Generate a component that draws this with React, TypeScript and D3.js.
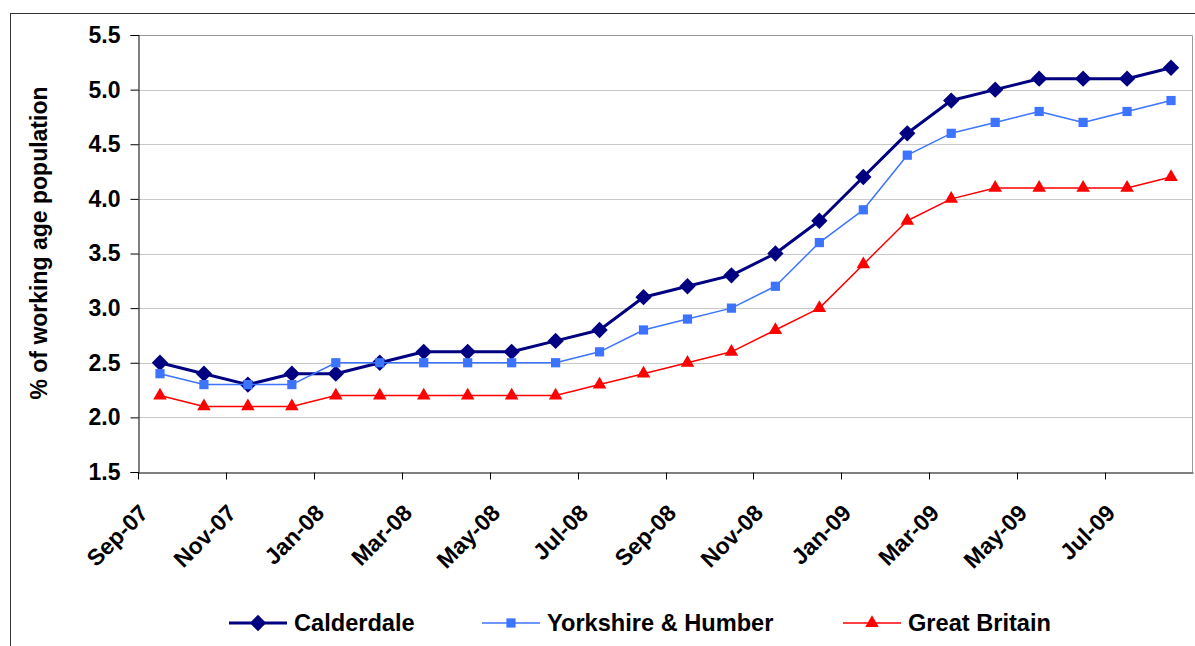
import { useRef, useEffect } from "react";
import * as d3 from "d3";

const months = [
  "Sep-07", "Oct-07", "Nov-07", "Dec-07", "Jan-08", "Feb-08", "Mar-08", "Apr-08",
  "May-08", "Jun-08", "Jul-08", "Aug-08", "Sep-08", "Oct-08", "Nov-08", "Dec-08",
  "Jan-09", "Feb-09", "Mar-09", "Apr-09", "May-09", "Jun-09", "Jul-09", "Aug-09",
];

const calderdale = [
  2.5, 2.4, 2.3, 2.4, 2.4, 2.5, 2.6, 2.6, 2.6, 2.7, 2.8, 3.1,
  3.2, 3.3, 3.5, 3.8, 4.2, 4.6, 4.9, 5.0, 5.1, 5.1, 5.1, 5.2,
];
const yorkshire = [
  2.4, 2.3, 2.3, 2.3, 2.5, 2.5, 2.5, 2.5, 2.5, 2.5, 2.6, 2.8,
  2.9, 3.0, 3.2, 3.6, 3.9, 4.4, 4.6, 4.7, 4.8, 4.7, 4.8, 4.9,
];
const greatBritain = [
  2.2, 2.1, 2.1, 2.1, 2.2, 2.2, 2.2, 2.2, 2.2, 2.2, 2.3, 2.4,
  2.5, 2.6, 2.8, 3.0, 3.4, 3.8, 4.0, 4.1, 4.1, 4.1, 4.1, 4.2,
];
const yTicks = [1.5, 2.0, 2.5, 3.0, 3.5, 4.0, 4.5, 5.0, 5.5];

const series = [
  { name: "Calderdale", values: calderdale, color: "#000080", width: 3, symbol: d3.symbolDiamond2, size: 170 },
  { name: "Yorkshire & Humber", values: yorkshire, color: "#3D74FF", width: 1.5, symbol: d3.symbolSquare, size: 85 },
  { name: "Great Britain", values: greatBritain, color: "#FF0000", width: 1.5, symbol: d3.symbolTriangle, size: 80 },
];

const App = () => {
  const svgRef = useRef<SVGSVGElement>(null);
  const W = 1195;
  const H = 646;

  useEffect(() => {
    const svg = d3.select(svgRef.current);
    svg.selectAll("*").remove();
    const FONT = "'Liberation Sans', Arial, sans-serif";
    const MARGIN = { TOP: 35, BOTTOM: 174, LEFT: 138, RIGHT: 2 };

    // outer chart border
    svg.append("rect")
      .attr("x", 10.5).attr("y", 13.5)
      .attr("width", 1300).attr("height", 800)
      .attr("fill", "white").attr("stroke", "#333").attr("stroke-width", 1);

    const x = d3.scaleBand<string>()
      .domain(months)
      .range([MARGIN.LEFT, W - MARGIN.RIGHT])
      .padding(0);
    const y = d3.scaleLinear().domain([1.5, 5.5]).range([H - MARGIN.BOTTOM, MARGIN.TOP]);
    const cx = (m: string) => (x(m) as number) + x.bandwidth() / 2;

    // gridlines
    svg.append("g")
      .selectAll("line")
      .data(yTicks.slice(1, -1))
      .join("line")
      .attr("x1", MARGIN.LEFT).attr("x2", W - MARGIN.RIGHT)
      .attr("y1", (d) => Math.round(y(d)) + 0.5).attr("y2", (d) => Math.round(y(d)) + 0.5)
      .attr("stroke", "#c8c8c8");

    // plot area border (top, right)
    svg.append("path")
      .attr("d", `M${MARGIN.LEFT},${y(5.5) + 0.5}H${W - MARGIN.RIGHT - 0.5}V${y(1.5)}`)
      .attr("fill", "none").attr("stroke", "#9a9a9a");

    // y axis
    const yAxis = svg.append("g")
      .attr("transform", `translate(${MARGIN.LEFT + 0.5},0)`)
      .call(d3.axisLeft(y).tickValues(yTicks).tickFormat(d3.format(".1f")).tickSize(8).tickPadding(10) as any);
    yAxis.select(".domain").attr("stroke", "#000");
    yAxis.selectAll("text")
      .attr("font-family", FONT).attr("font-size", 23).attr("font-weight", "bold").attr("fill", "#000");

    // x axis
    const tickMonths = months.filter((_, i) => i % 2 === 0);
    const xAxis = svg.append("g")
      .attr("transform", `translate(0,${y(1.5) + 0.5})`)
      .call(d3.axisBottom(x).tickValues(tickMonths).tickSize(7).tickSizeOuter(0) as any);
    xAxis.selectAll(".tick").attr("transform", (d: any) => `translate(${Math.round(x(d) as number) + 0.5},0)`);
    xAxis.select(".domain").attr("stroke", "#000");
    xAxis.selectAll("text")
      .attr("font-family", FONT).attr("font-size", 23).attr("font-weight", "bold").attr("fill", "#000")
      .attr("text-anchor", "end")
      .attr("dy", null)
      .attr("y", 0)
      .attr("transform", "translate(11,42) rotate(-45)");

    // y axis title
    svg.append("text")
      .attr("transform", `translate(47,243) rotate(-90)`)
      .attr("text-anchor", "middle")
      .attr("font-family", FONT).attr("font-size", 23).attr("font-weight", "bold")
      .text("% of working age population");

    // series
    series.forEach((s) => {
      const line = d3.line<number>()
        .x((_, i) => cx(months[i]))
        .y((d) => y(d));
      svg.append("path")
        .datum(s.values)
        .attr("d", line)
        .attr("fill", "none")
        .attr("stroke", s.color)
        .attr("stroke-width", s.width)
        .attr("stroke-linejoin", "round");
      svg.append("g")
        .selectAll("path")
        .data(s.values)
        .join("path")
        .attr("transform", (d, i) => `translate(${cx(months[i])},${y(d)})`)
        .attr("d", d3.symbol(s.symbol, s.size)())
        .attr("fill", s.color);
    });

    // legend
    const legendX = [229, 482, 843];
    const legendY = 623;
    series.forEach((s, i) => {
      const g = svg.append("g").attr("transform", `translate(${legendX[i]},${legendY})`);
      g.append("line").attr("x1", 0).attr("x2", 58).attr("y1", 0).attr("y2", 0)
        .attr("stroke", s.color).attr("stroke-width", s.width);
      g.append("path").attr("transform", "translate(29,0)")
        .attr("d", d3.symbol(s.symbol, s.size)()).attr("fill", s.color);
      g.append("text").attr("x", 65).attr("y", 0).attr("dy", "0.35em")
        .attr("font-family", FONT).attr("font-size", 23.6).attr("font-weight", "bold")
        .text(s.name);
    });
  }, []);

  return (
    <svg
      ref={svgRef}
      width={W}
      height={H}
      style={{ position: "absolute", left: 0, top: 0, background: "white" }}
    />
  );
};

export default App;
